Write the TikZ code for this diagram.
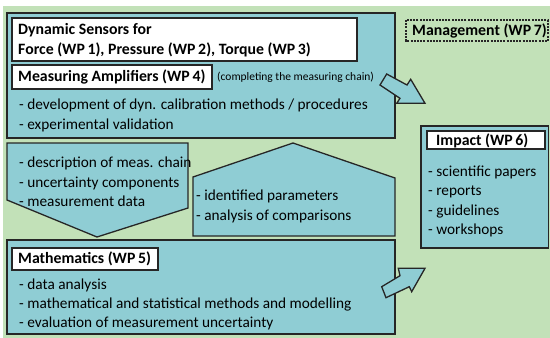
\documentclass[tikz,border=0pt]{standalone}
\usepackage{fontspec}
\setmainfont{Carlito}
\definecolor{bgc}{RGB}{194,225,184}
\definecolor{tealc}{RGB}{143,205,212}
\definecolor{edgec}{RGB}{38,38,38}
\begin{document}
\begin{tikzpicture}[x=1pt,y=-1pt,
  panel/.style={draw=edgec, fill=tealc, line width=1.3pt, line join=miter},
  labelbox/.style={draw=edgec, fill=white, line width=1.3pt},
  txt/.style={anchor=west, inner sep=0pt, yshift=-1.5pt, font=\fontsize{15.3}{18}\selectfont, text height=10pt, text depth=3.5pt},
  boldtxt/.style={txt, font=\fontsize{15.8}{18}\selectfont\bfseries},
  smalltxt/.style={anchor=west, inner sep=0pt, yshift=-1pt, font=\fontsize{11.5}{13}\selectfont, text height=7.5pt, text depth=2.5pt}]
\useasboundingbox (0,0) rectangle (550,338);
\fill[white] (0,0) rectangle (550,338);
\fill[bgc] (3,6) rectangle (550,338);
% top panel
\draw[panel] (7,13) rectangle (395,138);
\draw[labelbox] (12,18) rectangle (357,61);
\node[boldtxt] (ds1) at (18,30) {Dynamic Sensors for};
\node[boldtxt] (ds2) at (18,50) {Force (WP\,1), Pressure (WP\,2), Torque (WP\,3)};
\draw[labelbox] (12,65) rectangle (212,89);
\node[boldtxt] (ma) at (18,77) {Measuring Amplifiers (WP\,4)};
\node[smalltxt] (cmc) at (217,77) {(completing the measuring chain)};
\node[txt] (t1) at (19,105) {- development of dyn. calibration methods / procedures};
\node[txt] (t2) at (19,125) {- experimental validation};
% management
\draw[draw=edgec, line width=1.1pt, dash pattern=on 2pt off 1.2pt] (406,20) rectangle (548,41);
\node[boldtxt] (mg) at (412,31) {Management (WP\,7)};
% top arrow
\draw[panel] (380,85) -- (386.7,74) -- (407,85) -- (410.7,79.3) -- (425,103.3) -- (396.7,103.3) -- (400,98.3) -- cycle;
% left pentagon
\draw[panel] (7,143) -- (188,143) -- (188,208) -- (97,237) -- (7,200) -- cycle;
\node[txt] (l1) at (19,163) {- description of meas. chain};
\node[txt] (l2) at (19,183) {- uncertainty components};
\node[txt] (l3) at (19,202) {- measurement data};
% right pentagon
\draw[panel] (193,236) -- (193,177) -- (293,143) -- (395,178) -- (395,236) -- cycle;
\node[txt] (r1) at (196,196) {- identified parameters};
\node[txt] (r2) at (196,216) {- analysis of comparisons};
% mathematics
\draw[panel] (7,240) rectangle (395,334);
\draw[labelbox] (12,248) rectangle (158,270);
\node[boldtxt] (mt) at (18,259) {Mathematics (WP\,5)};
\node[txt] (m1) at (19,285) {- data analysis};
\node[txt] (m2) at (19,304) {- mathematical and statistical methods and modelling};
\node[txt] (m3) at (19,323) {- evaluation of measurement uncertainty};
% bottom arrow
\draw[panel] (386,297.7) -- (381.7,286.7) -- (400,275.7) -- (398.3,268.3) -- (425,268.3) -- (411.7,291.7) -- (409.3,286.7) -- cycle;
% impact
\draw[panel] (421,126) rectangle (548.5,248);
\draw[labelbox] (427,131) rectangle (545,149);
\node[boldtxt] (im) at (436,141) {Impact (WP\,6)};
\node[txt] (i1) at (428,172) {- scientific papers};
\node[txt] (i2) at (428,191) {- reports};
\node[txt] (i3) at (428,211) {- guidelines};
\node[txt] (i4) at (428,230) {- workshops};
\end{tikzpicture}
\end{document}
